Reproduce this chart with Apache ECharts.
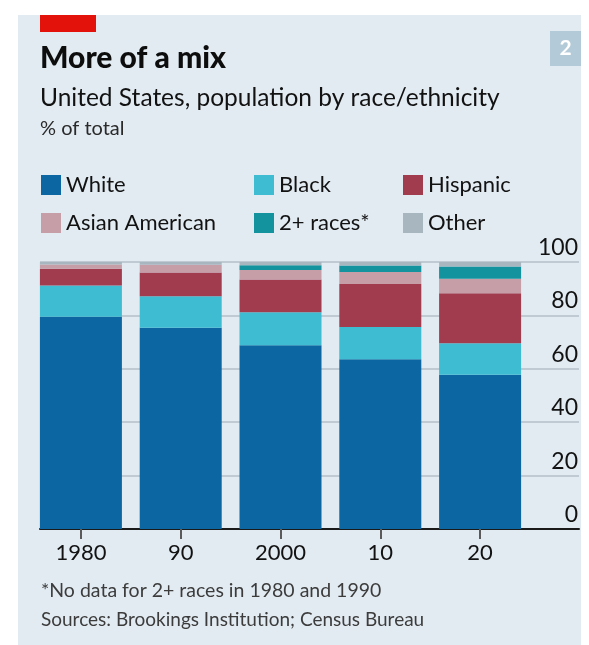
<!DOCTYPE html>
<html>
<head>
<meta charset="utf-8">
<script src="https://cdn.jsdelivr.net/npm/echarts@6/dist/echarts.min.js"></script>
<style>
  html, body { margin: 0; padding: 0; background: #ffffff; }
  #chart { width: 589px; height: 645px; }
</style>
</head>
<body>
<div id="chart"></div>
<script>
// Census years and the short labels shown under each bar
const years = ['1980', '1990', '2000', '2010', '2020'];
const tickLabels = ['1980', '90', '2000', '10', '20'];

// Share of US population, % of total
const white    = [79.5, 75.4, 68.8, 63.6, 57.8];
const black    = [11.7, 11.8, 12.4, 12.1, 11.8];
const hispanic = [6.3, 8.9, 12.2, 16.1, 18.7];
const asian    = [1.6, 2.9, 3.6, 4.5, 5.4];
const multi    = ['-', '-', 1.8, 2.4, 4.6];   // no data before 2000
const other    = [0.9, 1.0, 1.2, 1.3, 1.7];

const yTicks = [0, 20, 40, 60, 80, 100];

const FONT = 'Lato, "Open Sans", sans-serif';
const TEXT = '#121212';

const colors = {
  White: '#0b66a1',
  Black: '#3ebcd2',
  Hispanic: '#a03c4e',
  'Asian American': '#c59ea7',
  '2+ races*': '#13939d',
  Other: '#a8b6c0'
};

const seriesDefs = [
  ['White', white],
  ['Black', black],
  ['Hispanic', hispanic],
  ['Asian American', asian],
  ['2+ races*', multi],
  ['Other', other]
];

const chart = echarts.init(document.getElementById('chart'), null, { renderer: 'canvas' });

const legendBase = {
  orient: 'vertical',
  top: 174,
  itemWidth: 20,
  itemHeight: 20,
  itemGap: 16,
  icon: 'rect',
  padding: 0,
  selectedMode: false,
  textStyle: { fontFamily: FONT, fontSize: 22, color: TEXT, padding: [0, 0, 0, 0] }
};

const option = {
  backgroundColor: '#ffffff',
  animation: false,
  graphic: [
    { type: 'rect', z: -10, shape: { x: 18, y: 15, width: 563, height: 640 }, style: { fill: '#e2ebf2' } },
    { type: 'rect', z: 10, shape: { x: 40, y: 15, width: 56, height: 17 }, style: { fill: '#e3120b' } },
    { type: 'rect', z: 10, shape: { x: 550, y: 31, width: 31, height: 35 }, style: { fill: '#b3cad8' } },
    { type: 'text', z: 11, x: 565.5, y: 48.5, style: { text: '2', fill: '#ffffff', font: 'bold 21px ' + FONT, textAlign: 'center', textVerticalAlign: 'middle' } },
    { type: 'text', z: 11, left: 41, top: 581, style: { text: '*No data for 2+ races in 1980 and 1990', fill: '#3c3c3c', font: '19.5px ' + FONT } },
    { type: 'text', z: 11, left: 41, top: 610, style: { text: 'Sources: Brookings Institution; Census Bureau', fill: '#3c3c3c', font: '19px ' + FONT } }
  ],
  title: [
    { text: 'More of a mix', left: 40, top: 43, padding: 0,
      textStyle: { fontFamily: FONT, fontSize: 30, fontWeight: 900, color: '#0d0d0d' } },
    { text: 'United States, population by race/ethnicity', left: 40, top: 86, padding: 0,
      textStyle: { fontFamily: FONT, fontSize: 24.5, fontWeight: 'normal', color: TEXT } },
    { text: '% of total', left: 40, top: 119, padding: 0,
      textStyle: { fontFamily: FONT, fontSize: 20, fontWeight: 'normal', color: '#2a2a2a' } }
  ],
  legend: [
    Object.assign({}, legendBase, { left: 41, data: ['White', 'Asian American'] }),
    Object.assign({}, legendBase, { left: 254, data: ['Black', '2+ races*'] }),
    Object.assign({}, legendBase, { left: 403, data: ['Hispanic', 'Other'] })
  ],
  grid: [
    // bars
    { left: 31, right: 59, top: 262, bottom: 116 },
    // gridlines, value labels and baseline
    { left: 40, right: 10, top: 262, bottom: 116 }
  ],
  xAxis: [
    {
      type: 'category', gridIndex: 0, data: years,
      axisLine: { show: false },
      axisTick: { show: true, alignWithLabel: true, length: 10, lineStyle: { color: '#5a5a5a', width: 2 } },
      axisLabel: {
        fontFamily: FONT, fontSize: 22, color: TEXT, margin: 13,
        formatter: (v, i) => tickLabels[i]
      },
      splitLine: { show: false }
    },
    {
      type: 'value', gridIndex: 1, min: 0, max: 1,
      axisLine: { show: true, onZero: false, lineStyle: { color: '#1a1a1a', width: 2 } },
      axisTick: { show: false }, axisLabel: { show: false }, splitLine: { show: false }
    }
  ],
  yAxis: [
    { type: 'value', gridIndex: 0, min: 0, max: 100, show: false },
    {
      type: 'value', gridIndex: 1, min: 0, max: 100, interval: 20, position: 'right',
      axisLine: { show: false }, axisTick: { show: false },
      splitLine: { show: true, lineStyle: { color: '#b5bfc7', width: 1.5 } },
      axisLabel: {
        inside: true, margin: 1, fontFamily: FONT, fontSize: 23, color: TEXT,
        verticalAlign: 'bottom', padding: [0, 0, 3, 0],
        formatter: v => (yTicks.indexOf(v) >= 0 ? String(v) : '')
      }
    }
  ],
  series: seriesDefs.map(([name, data]) => ({
    name, type: 'bar', stack: 'total', data,
    xAxisIndex: 0, yAxisIndex: 0,
    barWidth: 82, z: 5,
    itemStyle: { color: colors[name] },
    emphasis: { disabled: true }
  }))
};

chart.setOption(option);
</script>
</body>
</html>
